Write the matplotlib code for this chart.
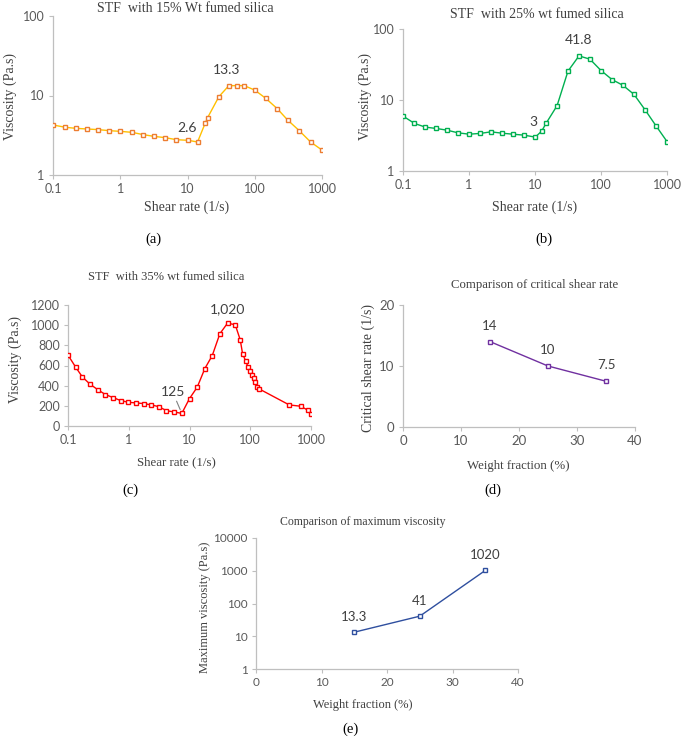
import matplotlib
matplotlib.use('Agg')
import matplotlib.pyplot as plt
from matplotlib.ticker import NullLocator

W, H = 685, 741

SERIF = ['Liberation Serif', 'DejaVu Serif']
SANS = ['Lato', 'DejaVu Sans']
TXT = '#404040'
TICK = '#595959'
AXC = '#BFBFBF'

# (a) STF with 15% fumed silica
rate_15 = [0.1, 0.153, 0.222, 0.324, 0.473, 0.69, 1.0, 1.5, 2.19, 3.19, 4.65,
           6.86, 10.3, 14.1, 18.3, 19.9, 29.3, 41.2, 54.8, 69.8, 100, 146,
           216, 308, 459, 677, 1000]
visc_15 = [4.26, 3.98, 3.86, 3.79, 3.72, 3.61, 3.54, 3.44, 3.22, 3.06, 2.95,
           2.78, 2.73, 2.6, 4.47, 5.26, 9.67, 13.3, 13.3, 13.3, 11.7, 9.2,
           6.83, 4.92, 3.61, 2.6, 2.06]

# (b) STF with 25% fumed silica
rate_25 = [0.1, 0.149, 0.218, 0.32, 0.464, 0.68, 1.0, 1.47, 2.15, 3.16, 4.59,
           6.8, 10.1, 12.6, 14.9, 21.6, 31.6, 46.4, 68, 100, 147, 215, 316,
           464, 681, 1000]
visc_25 = [5.94, 4.68, 4.15, 3.97, 3.76, 3.45, 3.3, 3.38, 3.56, 3.41, 3.3,
           3.2, 3.0, 3.64, 4.78, 8.32, 25.5, 41.8, 37.6, 26.0, 19.4, 16.1,
           12.0, 7.3, 4.33, 2.6]

# (c) STF with 35% fumed silica
rate_35 = [0.1, 0.134, 0.172, 0.231, 0.308, 0.412, 0.552, 0.738, 0.99, 1.32,
           1.77, 2.36, 3.12, 4.18, 5.59, 7.47, 10, 13.4, 17.9, 23.7, 31.6,
           42.3, 56.6, 68.4, 74.8, 83.8, 91.6, 100, 106, 115, 122, 130, 137,
           439, 676, 892, 1000]
visc_35 = [703, 583, 487, 414, 361, 312, 282, 252, 235, 229, 222, 209, 192,
           152, 139, 125, 272, 385, 570, 699, 915, 1020, 1004, 855, 716, 646,
           590, 544, 507, 477, 441, 388, 371, 209, 196, 156, 123]

# (d) critical shear rate, (e) maximum viscosity
wt_frac = [15, 25, 35]
crit_rate = [14, 10, 7.5]
crit_labels = ['14', '10', '7.5']
max_visc = [13.3, 41, 1020]
max_labels = ['13.3', '41', '1020']

log_ticks = [0.1, 1, 10, 100, 1000]
log_tick_labels = ['0.1', '1', '10', '100', '1000']


def box(l, t, r, b):
    return [l / W, 1 - b / H, (r - l) / W, (b - t) / H]


def put(fig, x, y, s, size=10, family=SERIF, rot=0, color=TXT):
    fig.text(x / W, 1 - y / H, s, ha='center', va='center', fontsize=size,
             family=family, rotation=rot, color=color)


def style(ax, size=9):
    for side in ('top', 'right'):
        ax.spines[side].set_visible(False)
    for side in ('left', 'bottom'):
        ax.spines[side].set_color(AXC)
        ax.spines[side].set_linewidth(0.9)
    ax.tick_params(direction='out', length=3, width=0.8, color=AXC,
                   labelcolor=TICK, labelsize=size, pad=3)
    for lab in ax.get_xticklabels() + ax.get_yticklabels():
        lab.set_family(SANS)
    ax.xaxis.set_minor_locator(NullLocator())
    ax.yaxis.set_minor_locator(NullLocator())


def shear_x(ax):
    ax.set_xscale('log')
    ax.set_xlim(0.1, 1000)
    ax.set_xticks(log_ticks)
    ax.set_xticklabels(log_tick_labels)


def series(ax, x, y, line, edge, lw=1.0):
    ax.plot(x, y, color=line, lw=lw, marker='s', ms=3.4, mfc='white',
            mec=edge, mew=1.0, zorder=3)


def label(ax, x, y, s, dx=0, dy=15, size=10):
    ax.annotate(s, (x, y), xytext=(dx, dy), textcoords='offset pixels',
                ha='center', va='center', fontsize=size, family=SANS,
                color=TXT)


fig = plt.figure(figsize=(W / 100, H / 100), dpi=100)

# (a)
ax = fig.add_axes(box(53, 16, 322, 175))
series(ax, rate_15, visc_15, '#FFC000', '#ED7D31')
shear_x(ax)
ax.set_yscale('log')
ax.set_ylim(1, 100)
ax.set_yticks([1, 10, 100])
ax.set_yticklabels(['1', '10', '100'])
style(ax)
label(ax, rate_15[13], visc_15[13], '2.6', dx=-10, dy=14)
label(ax, rate_15[17], visc_15[17], '13.3', dx=-2, dy=16)
put(fig, 185, 8, 'STF  with 15% Wt fumed silica')
put(fig, 187, 207, 'Shear rate (1/s)')
put(fig, 10, 97, 'Viscosity (Pa.s)', rot=90)
put(fig, 153, 239, '(a)', size=10.5, color='black')

# (b)
ax = fig.add_axes(box(403, 29, 667, 171))
series(ax, rate_25, visc_25, '#00B050', '#00B050')
shear_x(ax)
ax.set_yscale('log')
ax.set_ylim(1, 100)
ax.set_yticks([1, 10, 100])
ax.set_yticklabels(['1', '10', '100'])
style(ax)
label(ax, rate_25[12], visc_25[12], '3', dx=-2, dy=15)
label(ax, rate_25[17], visc_25[17], '41.8', dx=0, dy=16)
put(fig, 537, 15, 'STF  with 25% wt fumed silica')
put(fig, 535, 207, 'Shear rate (1/s)')
put(fig, 365, 97, 'Viscosity (Pa.s)', rot=90)
put(fig, 544, 239, '(b)', size=10.5, color='black')

# (c)
ax = fig.add_axes(box(68, 305, 311, 426))
series(ax, rate_35, visc_35, '#FF0000', '#FF0000')
shear_x(ax)
ax.set_ylim(0, 1200)
ax.set_yticks(range(0, 1201, 200))
style(ax)
ax.annotate('125', (rate_35[15], visc_35[15]), xytext=(-9, 21),
            textcoords='offset pixels', ha='center', va='center',
            fontsize=10, family=SANS, color=TXT,
            arrowprops=dict(arrowstyle='-', color='#808080', lw=0.8,
                            shrinkA=0, shrinkB=3))
label(ax, rate_35[21], visc_35[21], '1,020', dx=0, dy=14)
put(fig, 166, 277, 'STF  with 35% wt fumed silica', size=9)
put(fig, 176, 462, 'Shear rate (1/s)', size=9.3)
put(fig, 15, 360, 'Viscosity (Pa.s)', rot=90)
put(fig, 130, 490, '(c)', size=10.5, color='black')

# (d)
ax = fig.add_axes(box(403, 305, 635, 427))
series(ax, wt_frac, crit_rate, '#7030A0', '#7030A0')
ax.set_xlim(0, 40)
ax.set_xticks([0, 10, 20, 30, 40])
ax.set_ylim(0, 20)
ax.set_yticks([0, 10, 20])
style(ax, size=9.5)
for x, y, s in zip(wt_frac, crit_rate, crit_labels):
    label(ax, x, y, s, dy=16, size=9.5)
put(fig, 535, 285, 'Comparison of critical shear rate', size=9.2)
put(fig, 518, 466, 'Weight fraction (%)', size=9.3)
put(fig, 368, 368, 'Critical shear rate (1/s)', rot=90, size=10)
put(fig, 493, 490, '(d)', size=10.5, color='black')

# (e)
ax = fig.add_axes(box(256, 538, 518, 669))
series(ax, wt_frac, max_visc, '#2F4F9F', '#2F4F9F')
ax.set_xlim(0, 40)
ax.set_xticks([0, 10, 20, 30, 40])
ax.set_yscale('log')
ax.set_ylim(1, 10000)
ax.set_yticks([1, 10, 100, 1000, 10000])
ax.set_yticklabels(['1', '10', '100', '1000', '10000'])
style(ax, size=8.5)
for x, y, s in zip(wt_frac, max_visc, max_labels):
    label(ax, x, y, s, dy=15, size=9.5)
put(fig, 363, 522, 'Comparison of maximum viscosity', size=8.5)
put(fig, 363, 705, 'Weight fraction (%)', size=9)
put(fig, 205, 607, 'Maximum viscosity (Pa.s)', rot=90, size=9)
put(fig, 350, 729, '(e)', size=10.5, color='black')

fig.savefig('out.png', dpi=100)
